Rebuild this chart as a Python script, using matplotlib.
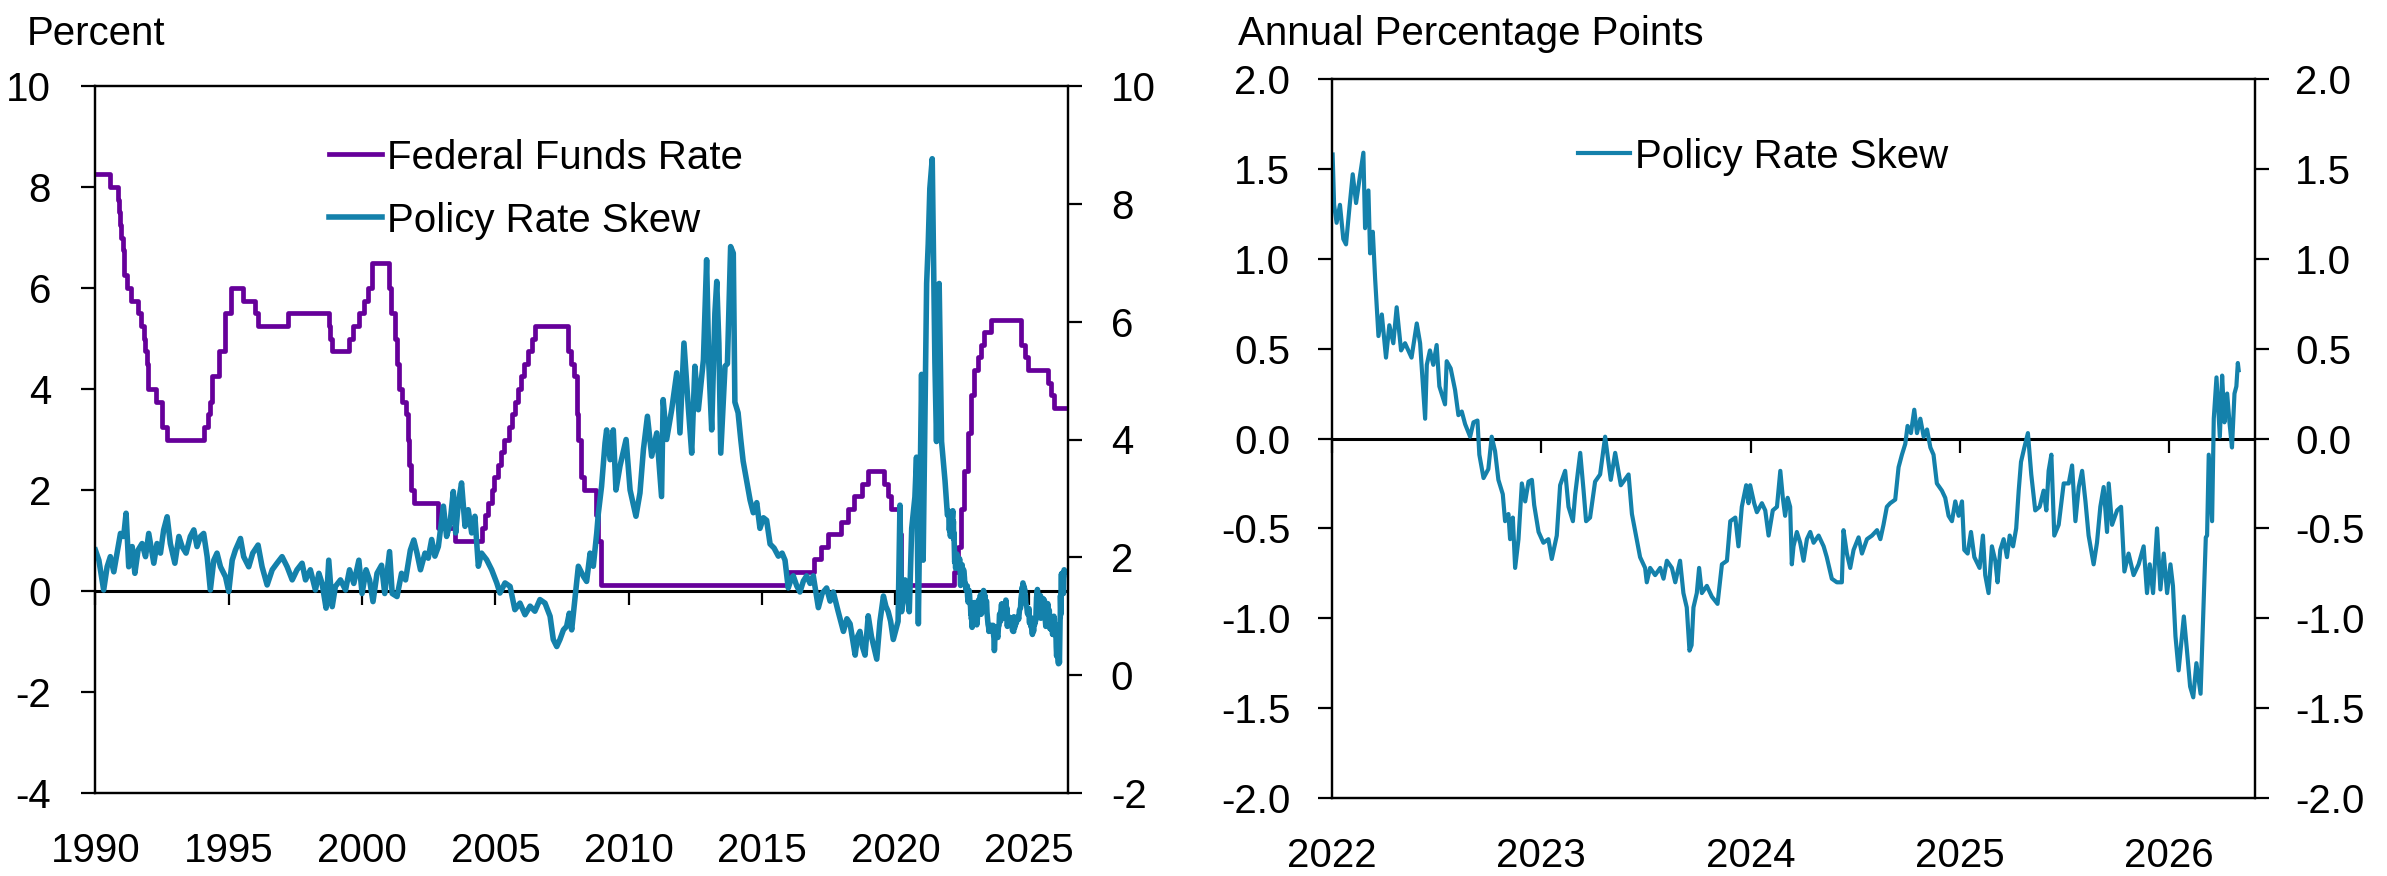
import matplotlib
matplotlib.use("Agg")
import matplotlib.pyplot as plt
from matplotlib.ticker import FormatStrFormatter

plt.rcParams['font.family'] = ['Liberation Sans', 'DejaVu Sans']
plt.rcParams['axes.unicode_minus'] = False

# ---- data (decimal years) ----
# federal funds rate target (midpoint of range after 2008), step changes
ffr_dates = [1990.00, 1990.54, 1990.83, 1990.87, 1990.93, 1990.97, 1991.02, 1991.09, 1991.19,
             1991.33, 1991.60, 1991.70, 1991.83, 1991.85, 1991.92, 1991.97, 1992.27, 1992.50,
             1992.68, 1994.09, 1994.24, 1994.30, 1994.38, 1994.63, 1994.87, 1995.09, 1995.52,
             1995.97, 1996.08, 1997.23, 1998.75, 1998.79, 1998.88, 1999.50, 1999.65, 1999.88,
             2000.09, 2000.22, 2000.38, 2001.01, 2001.08, 2001.22, 2001.30, 2001.38, 2001.49,
             2001.64, 2001.71, 2001.75, 2001.85, 2001.95, 2002.85, 2003.48, 2004.49, 2004.61,
             2004.72, 2004.86, 2004.95, 2005.09, 2005.22, 2005.34, 2005.50, 2005.61, 2005.72,
             2005.84, 2005.96, 2006.08, 2006.24, 2006.36, 2006.49, 2007.72, 2007.83, 2007.95,
             2008.06, 2008.08, 2008.21, 2008.33, 2008.77, 2008.83, 2008.96, 2015.96, 2016.96,
             2017.20, 2017.46, 2017.96, 2018.21, 2018.46, 2018.74, 2018.97, 2019.58, 2019.72,
             2019.83, 2020.17, 2020.21, 2022.21, 2022.34, 2022.46, 2022.57, 2022.72, 2022.84,
             2022.96, 2023.09, 2023.22, 2023.34, 2023.57, 2024.72, 2024.85, 2024.96, 2025.71,
             2025.83, 2025.95, 2026.36]
ffr_levels = [8.25, 8.0, 7.75, 7.5, 7.25, 7.0, 6.75, 6.25, 6.0,
              5.75, 5.5, 5.25, 5.0, 4.75, 4.5, 4.0, 3.75, 3.25,
              3.0, 3.25, 3.5, 3.75, 4.25, 4.75, 5.5, 6.0, 5.75,
              5.5, 5.25, 5.5, 5.25, 5.0, 4.75, 5.0, 5.25, 5.5,
              5.75, 6.0, 6.5, 6.0, 5.5, 5.0, 4.5, 4.0, 3.75,
              3.5, 3.0, 2.5, 2.0, 1.75, 1.25, 1.0, 1.25, 1.5,
              1.75, 2.0, 2.25, 2.5, 2.75, 3.0, 3.25, 3.5, 3.75,
              4.0, 4.25, 4.5, 4.75, 5.0, 5.25, 4.75, 4.5, 4.25,
              3.5, 3.0, 2.25, 2.0, 1.5, 1.0, 0.125, 0.375, 0.625,
              0.875, 1.125, 1.375, 1.625, 1.875, 2.125, 2.375, 2.125, 1.875,
              1.625, 1.125, 0.125, 0.375, 0.875, 1.625, 2.375, 3.125, 3.875,
              4.375, 4.625, 4.875, 5.125, 5.375, 4.875, 4.625, 4.375, 4.125,
              3.875, 3.625, 3.625]

# policy rate skew, 1990 - 2021
skew_hist_dates = [1990.00, 1990.13, 1990.31, 1990.44, 1990.56, 1990.69, 1990.81, 1990.94, 1991.06,
                   1991.15, 1991.25, 1991.38, 1991.48, 1991.60, 1991.75, 1991.88, 1992.00, 1992.19,
                   1992.31, 1992.44, 1992.56, 1992.69, 1992.81, 1992.98, 1993.13, 1993.25, 1993.40,
                   1993.56, 1993.69, 1993.81, 1993.94, 1994.06, 1994.19, 1994.31, 1994.44, 1994.56,
                   1994.69, 1994.88, 1995.00, 1995.13, 1995.25, 1995.44, 1995.56, 1995.75, 1995.90,
                   1996.10, 1996.25, 1996.44, 1996.63, 1996.81, 1997.00, 1997.19, 1997.38, 1997.56,
                   1997.75, 1997.88, 1998.06, 1998.25, 1998.38, 1998.50, 1998.65, 1998.75, 1998.88,
                   1999.00, 1999.19, 1999.38, 1999.53, 1999.69, 1999.88, 2000.00, 2000.15, 2000.28,
                   2000.41, 2000.56, 2000.73, 2000.85, 2001.03, 2001.13, 2001.31, 2001.48, 2001.63,
                   2001.81, 2001.94, 2002.06, 2002.19, 2002.36, 2002.48, 2002.61, 2002.73, 2002.86,
                   2003.05, 2003.17, 2003.30, 2003.42, 2003.51, 2003.61, 2003.73, 2003.86, 2003.98,
                   2004.11, 2004.23, 2004.36, 2004.48, 2004.67, 2004.86, 2005.05, 2005.17, 2005.36,
                   2005.55, 2005.73, 2005.92, 2006.11, 2006.30, 2006.48, 2006.67, 2006.86, 2007.05,
                   2007.17, 2007.30, 2007.42, 2007.55, 2007.67, 2007.77, 2007.86, 2007.98, 2008.11,
                   2008.30, 2008.42, 2008.55, 2008.67, 2008.80, 2008.86, 2008.98, 2009.11, 2009.17,
                   2009.30, 2009.42, 2009.52, 2009.67, 2009.90, 2010.05, 2010.27, 2010.42, 2010.55,
                   2010.70, 2010.86, 2011.05, 2011.23, 2011.29, 2011.42, 2011.61, 2011.80, 2011.92,
                   2012.07, 2012.23, 2012.36, 2012.48, 2012.61, 2012.80, 2012.92, 2013.00, 2013.11,
                   2013.23, 2013.30, 2013.38, 2013.45, 2013.55, 2013.61, 2013.70, 2013.82, 2013.92,
                   2013.98, 2014.10, 2014.20, 2014.29, 2014.42, 2014.55, 2014.67, 2014.80, 2014.92,
                   2015.05, 2015.17, 2015.30, 2015.45, 2015.61, 2015.75, 2015.86, 2015.98, 2016.10,
                   2016.17, 2016.30, 2016.42, 2016.55, 2016.67, 2016.80, 2016.92, 2017.11, 2017.25,
                   2017.42, 2017.55, 2017.67, 2017.85, 2018.05, 2018.18, 2018.30, 2018.49, 2018.58,
                   2018.67, 2018.76, 2018.86, 2018.98, 2019.10, 2019.30, 2019.42, 2019.55, 2019.64,
                   2019.73, 2019.82, 2019.92, 2020.10, 2020.17, 2020.23, 2020.36, 2020.52, 2020.61,
                   2020.73, 2020.79, 2020.86, 2020.98, 2021.04, 2021.17, 2021.23, 2021.29, 2021.38,
                   2021.48, 2021.54, 2021.64, 2021.73, 2021.86, 2021.95]
skew_hist_vals = [0.81, 0.61, 0.02, 0.48, 0.68, 0.38, 0.75, 1.14, 1.08,
                  1.54, 0.48, 0.88, 0.35, 0.81, 0.94, 0.68, 1.14, 0.55,
                  0.94, 0.75, 1.21, 1.47, 0.94, 0.55, 1.08, 0.88, 0.75,
                  1.08, 1.21, 0.88, 1.08, 1.14, 0.68, 0.02, 0.61, 0.75,
                  0.48, 0.28, -0.01, 0.61, 0.81, 1.04, 0.68, 0.48, 0.75,
                  0.91, 0.48, 0.12, 0.42, 0.55, 0.68, 0.48, 0.22, 0.42,
                  0.55, 0.22, 0.42, 0.02, 0.35, 0.15, -0.34, 0.61, -0.31,
                  0.09, 0.22, 0.02, 0.42, 0.15, 0.61, -0.05, 0.42, 0.22,
                  -0.21, 0.35, 0.51, -0.05, 0.78, -0.05, -0.11, 0.35, 0.22,
                  0.81, 1.01, 0.75, 0.42, 0.75, 0.65, 1.02, 0.69, 0.88,
                  1.68, 1.08, 1.35, 1.97, 1.15, 1.74, 2.14, 1.28, 1.61,
                  1.15, 1.48, 0.49, 0.75, 0.62, 0.42, 0.16, -0.04, 0.16,
                  0.09, -0.37, -0.24, -0.47, -0.30, -0.40, -0.17, -0.24, -0.50,
                  -0.96, -1.10, -0.96, -0.77, -0.70, -0.44, -0.77, -0.17, 0.49,
                  0.29, 0.19, 0.75, 0.49, 1.15, 1.54, 2.07, 2.93, 3.19,
                  2.60, 3.19, 2.00, 2.47, 3.00, 2.00, 1.48, 1.94, 2.80,
                  3.46, 2.67, 3.13, 1.87, 3.79, 3.00, 3.59, 4.32, 3.13,
                  4.91, 3.66, 2.73, 4.45, 3.59, 4.58, 6.56, 4.52, 3.19,
                  5.50, 6.13, 4.90, 2.73, 3.79, 4.45, 4.50, 6.82, 6.69,
                  3.74, 3.53, 3.00, 2.57, 2.18, 1.80, 1.55, 1.75, 1.24,
                  1.45, 1.40, 0.93, 0.85, 0.69, 0.75, 0.61, 0.06, 0.25,
                  0.30, 0.10, -0.02, 0.20, 0.30, 0.15, 0.30, -0.33, -0.05,
                  0.06, -0.20, -0.02, -0.40, -0.80, -0.55, -0.65, -1.27, -0.90,
                  -0.80, -1.10, -1.27, -0.49, -0.90, -1.35, -0.60, -0.10, -0.30,
                  -0.41, -0.60, -0.96, -0.60, 1.70, -0.41, 0.22, -0.41, 1.24,
                  1.86, 2.65, -0.65, 4.29, 0.61, 6.09, 6.88, 7.97, 8.56,
                  4.53, 2.96, 6.09, 2.96, 2.18, 1.50]

# policy rate skew, 2022 onward
skew_recent_dates = [2022.003, 2022.010, 2022.022, 2022.038, 2022.054, 2022.067, 2022.083, 2022.099,
                     2022.115, 2022.131, 2022.150, 2022.158, 2022.174, 2022.182, 2022.195, 2022.206,
                     2022.222, 2022.238, 2022.258, 2022.274, 2022.293, 2022.309, 2022.330, 2022.349,
                     2022.380, 2022.405, 2022.421, 2022.445, 2022.453, 2022.468, 2022.484, 2022.500,
                     2022.513, 2022.540, 2022.548, 2022.567, 2022.588, 2022.604, 2022.620, 2022.636,
                     2022.660, 2022.676, 2022.695, 2022.704, 2022.724, 2022.747, 2022.763, 2022.779,
                     2022.795, 2022.816, 2022.827, 2022.843, 2022.851, 2022.864, 2022.875, 2022.891,
                     2022.907, 2022.923, 2022.939, 2022.955, 2022.966, 2022.987, 2023.010, 2023.034,
                     2023.050, 2023.074, 2023.090, 2023.114, 2023.130, 2023.151, 2023.162, 2023.186,
                     2023.202, 2023.214, 2023.233, 2023.257, 2023.281, 2023.305, 2023.332, 2023.353,
                     2023.380, 2023.417, 2023.433, 2023.456, 2023.472, 2023.496, 2023.504, 2023.520,
                     2023.544, 2023.568, 2023.584, 2023.600, 2023.624, 2023.640, 2023.663, 2023.679,
                     2023.695, 2023.708, 2023.718, 2023.727, 2023.743, 2023.754, 2023.767, 2023.791,
                     2023.815, 2023.842, 2023.863, 2023.887, 2023.903, 2023.927, 2023.942, 2023.958,
                     2023.979, 2023.990, 2023.998, 2024.017, 2024.030, 2024.054, 2024.070, 2024.086,
                     2024.106, 2024.126, 2024.142, 2024.154, 2024.165, 2024.177, 2024.189, 2024.197,
                     2024.205, 2024.221, 2024.237, 2024.253, 2024.269, 2024.285, 2024.301, 2024.325,
                     2024.349, 2024.364, 2024.388, 2024.412, 2024.436, 2024.444, 2024.460, 2024.476,
                     2024.492, 2024.516, 2024.532, 2024.556, 2024.580, 2024.604, 2024.620, 2024.635,
                     2024.651, 2024.667, 2024.691, 2024.707, 2024.723, 2024.739, 2024.750, 2024.766,
                     2024.782, 2024.795, 2024.811, 2024.827, 2024.843, 2024.859, 2024.874, 2024.890,
                     2024.914, 2024.930, 2024.946, 2024.962, 2024.978, 2024.994, 2025.010, 2025.021,
                     2025.037, 2025.053, 2025.069, 2025.094, 2025.110, 2025.121, 2025.137, 2025.153,
                     2025.169, 2025.180, 2025.193, 2025.209, 2025.225, 2025.238, 2025.254, 2025.269,
                     2025.281, 2025.292, 2025.308, 2025.325, 2025.341, 2025.360, 2025.381, 2025.400,
                     2025.413, 2025.424, 2025.437, 2025.451, 2025.472, 2025.496, 2025.520, 2025.536,
                     2025.552, 2025.568, 2025.584, 2025.600, 2025.615, 2025.639, 2025.655, 2025.671,
                     2025.687, 2025.703, 2025.711, 2025.727, 2025.751, 2025.770, 2025.786, 2025.806,
                     2025.830, 2025.854, 2025.878, 2025.894, 2025.907, 2025.923, 2025.942, 2025.958,
                     2025.974, 2025.990, 2026.006, 2026.018, 2026.030, 2026.045, 2026.070, 2026.085,
                     2026.100, 2026.115, 2026.130, 2026.150, 2026.165, 2026.175, 2026.181, 2026.189,
                     2026.205, 2026.213, 2026.226, 2026.242, 2026.253, 2026.264, 2026.277, 2026.288,
                     2026.300, 2026.312, 2026.321, 2026.328, 2026.332]
skew_recent_vals = [1.58, 1.30, 1.20, 1.30, 1.11, 1.08, 1.28, 1.47,
                    1.31, 1.44, 1.59, 1.17, 1.38, 1.03, 1.15, 0.89,
                    0.57, 0.69, 0.45, 0.63, 0.53, 0.73, 0.49, 0.53,
                    0.45, 0.64, 0.53, 0.11, 0.41, 0.49, 0.41, 0.52,
                    0.29, 0.19, 0.43, 0.39, 0.27, 0.13, 0.15, 0.08,
                    0.01, 0.09, 0.10, -0.09, -0.22, -0.17, 0.01, -0.07,
                    -0.23, -0.31, -0.46, -0.42, -0.56, -0.44, -0.72, -0.56,
                    -0.25, -0.35, -0.24, -0.23, -0.37, -0.52, -0.58, -0.56,
                    -0.67, -0.54, -0.26, -0.18, -0.38, -0.46, -0.31, -0.08,
                    -0.29, -0.46, -0.44, -0.24, -0.20, 0.01, -0.23, -0.08,
                    -0.26, -0.20, -0.42, -0.56, -0.66, -0.72, -0.80, -0.72,
                    -0.76, -0.72, -0.78, -0.68, -0.72, -0.80, -0.68, -0.86,
                    -0.94, -1.18, -1.15, -0.94, -0.86, -0.72, -0.86, -0.82,
                    -0.88, -0.92, -0.70, -0.68, -0.46, -0.44, -0.60, -0.38,
                    -0.26, -0.36, -0.26, -0.36, -0.41, -0.36, -0.40, -0.54,
                    -0.40, -0.38, -0.18, -0.33, -0.43, -0.33, -0.38, -0.70,
                    -0.60, -0.52, -0.58, -0.68, -0.56, -0.52, -0.58, -0.54,
                    -0.60, -0.66, -0.78, -0.80, -0.80, -0.51, -0.64, -0.72,
                    -0.62, -0.55, -0.64, -0.56, -0.54, -0.51, -0.56, -0.48,
                    -0.38, -0.36, -0.34, -0.16, -0.09, -0.03, 0.07, 0.03,
                    0.16, 0.03, 0.11, 0.01, 0.05, -0.05, -0.09, -0.25,
                    -0.29, -0.33, -0.43, -0.46, -0.35, -0.43, -0.35, -0.62,
                    -0.64, -0.52, -0.66, -0.72, -0.54, -0.76, -0.86, -0.60,
                    -0.68, -0.80, -0.62, -0.56, -0.66, -0.54, -0.60, -0.50,
                    -0.29, -0.13, -0.05, 0.03, -0.20, -0.40, -0.38, -0.29,
                    -0.40, -0.18, -0.09, -0.54, -0.48, -0.25, -0.25, -0.15,
                    -0.46, -0.27, -0.18, -0.35, -0.54, -0.70, -0.58, -0.38,
                    -0.27, -0.52, -0.25, -0.48, -0.40, -0.38, -0.74, -0.64,
                    -0.76, -0.70, -0.60, -0.86, -0.70, -0.86, -0.50, -0.84,
                    -0.64, -0.86, -0.70, -0.82, -1.10, -1.29, -0.99, -1.18,
                    -1.38, -1.44, -1.25, -1.42, -0.90, -0.55, -0.54, -0.09,
                    -0.46, 0.11, 0.34, 0.01, 0.35, 0.09, 0.25, 0.09,
                    -0.05, 0.25, 0.29, 0.42, 0.38]

left_xticks = [1990, 1995, 2000, 2005, 2010, 2015, 2020, 2025]
right_xticks = [2022, 2023, 2024, 2025, 2026]

purple = '#66009A'
blue = '#1481AB'
FS = 29

fig = plt.figure(figsize=(23.87, 8.76), dpi=100)
W, H = 2387, 876


def frame(ax, xlim, ylim, yticks, y2lim, y2ticks, xticks, zero_pos, fmt=None, lpad=21, rpad=21):
    ax.set_xlim(*xlim)
    ax.set_ylim(*ylim)
    ax.set_yticks(yticks)
    ax.set_xticks(xticks)
    for s in ax.spines.values():
        s.set_linewidth(1.6)
    ax.tick_params(axis='y', direction='out', length=10, width=1.6, pad=lpad, labelsize=FS)
    ax.tick_params(axis='x', length=0, pad=28, labelsize=FS)
    if fmt:
        ax.yaxis.set_major_formatter(FormatStrFormatter(fmt))
    ax.axhline(0, color='black', lw=2.2, zorder=1)
    # ticks sitting on the zero line
    sec = ax.secondary_xaxis(zero_pos)
    sec.set_xticks(xticks)
    sec.xaxis.set_ticks_position('bottom')
    sec.tick_params(axis='x', direction='out', length=10, width=1.6, labelbottom=False, labeltop=False)
    for s in sec.spines.values():
        s.set_visible(False)
    axr = ax.twinx()
    axr.set_ylim(*y2lim)
    axr.set_yticks(y2ticks)
    axr.tick_params(axis='y', direction='out', length=10, width=1.6, pad=rpad, labelsize=FS)
    if fmt:
        axr.yaxis.set_major_formatter(FormatStrFormatter(fmt))
    for s in axr.spines.values():
        s.set_linewidth(1.6)
    return axr


# ---- left panel ----
ax1 = fig.add_axes([95.4 / W, 1 - 793 / H, (1067.7 - 95.4) / W, (793 - 86) / H])
frame(ax1, (1990, 2026.46), (-4, 10), range(-4, 11, 2), (-2, 10), range(-2, 11, 2),
      left_xticks, 4 / 14, lpad=22, rpad=21)
ax1.step(ffr_dates, ffr_levels, where='post', color=purple, lw=3.4, label='Federal Funds Rate', zorder=3)
ax1.plot(skew_hist_dates + skew_recent_dates, skew_hist_vals + skew_recent_vals,
         color=blue, lw=4.0, label='Policy Rate Skew', zorder=4)
ax1.legend(loc='upper left', bbox_to_anchor=(0.2403, 0.925), frameon=False, fontsize=FS,
           handlelength=1.31, handletextpad=0.12, handleheight=0.84, labelspacing=0.61,
           borderpad=0, borderaxespad=0)

# ---- right panel ----
ax2 = fig.add_axes([1332 / W, 1 - 798 / H, (2255 - 1332) / W, (798 - 79) / H])
frame(ax2, (2022, 2026.41), (-2, 2), [-2, -1.5, -1, -0.5, 0, 0.5, 1, 1.5, 2],
      (-2, 2), [-2, -1.5, -1, -0.5, 0, 0.5, 1, 1.5, 2], right_xticks, 0.5, fmt='%.1f',
      lpad=20, rpad=19)
ax2.plot(skew_recent_dates, skew_recent_vals, color=blue, lw=3.0, label='Policy Rate Skew', zorder=4)
ax2.legend(loc='upper left', bbox_to_anchor=(0.267, 0.918), frameon=False, fontsize=FS,
           handlelength=1.28, handletextpad=0.12, handleheight=0.84,
           borderpad=0, borderaxespad=0)

fig.text(26.5 / W, 1 - 45 / H, 'Percent', fontsize=FS, va='baseline', ha='left')
fig.text(1238 / W, 1 - 45 / H, 'Annual Percentage Points', fontsize=FS, va='baseline', ha='left')

fig.savefig('out.png', dpi=100)
